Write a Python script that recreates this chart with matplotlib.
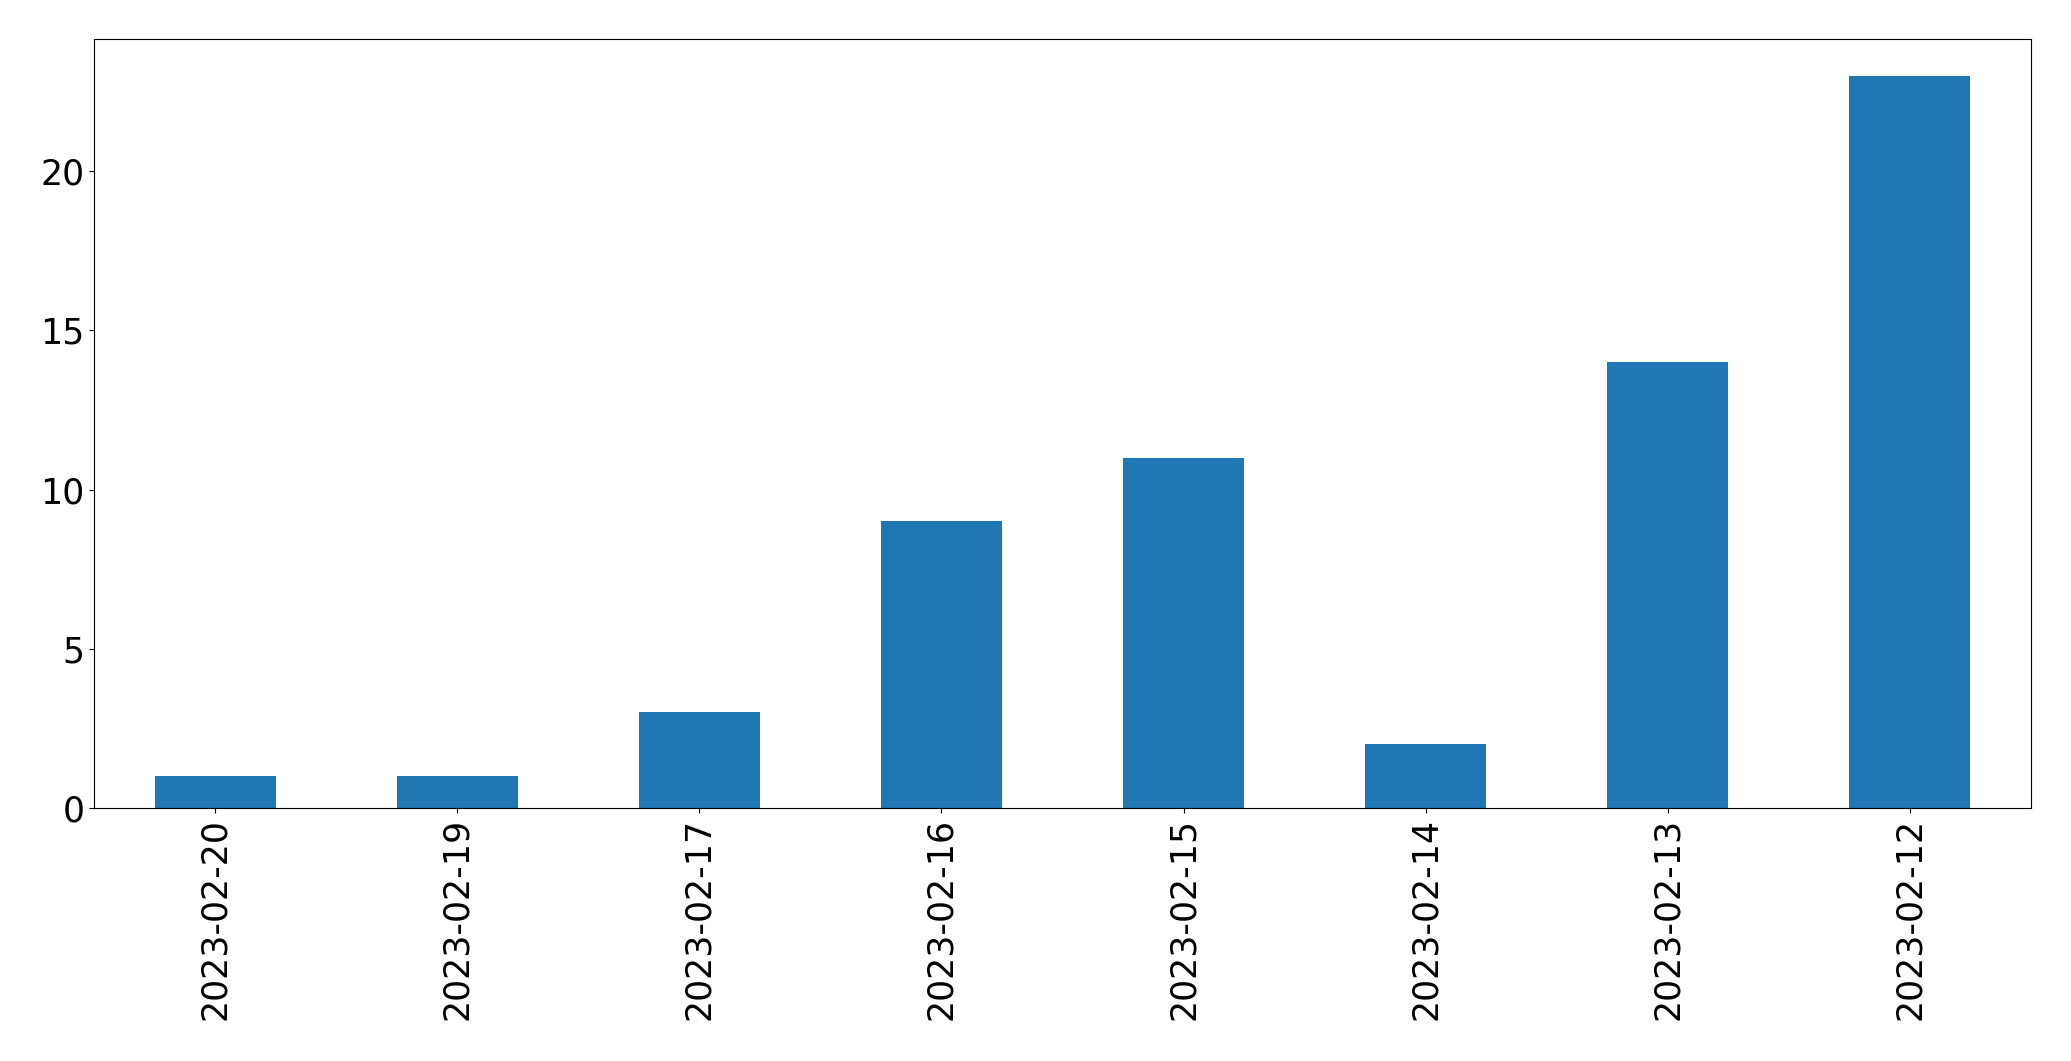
import pandas as pd
import matplotlib
matplotlib.use("Agg")
import matplotlib.pyplot as plt

# counts per day, newest first
dates = ["2023-02-20", "2023-02-19", "2023-02-17", "2023-02-16",
         "2023-02-15", "2023-02-14", "2023-02-13", "2023-02-12"]
counts = [1, 1, 3, 9, 11, 2, 14, 23]

s = pd.Series(counts, index=dates)

fig = plt.figure(figsize=(20.71, 10.61), dpi=100)
ax = fig.add_axes([94 / 2071, 1 - 808 / 1061, (2031 - 94) / 2071, (808 - 39) / 1061])
s.plot(kind="bar", ax=ax, color="#1f77b4", fontsize=25)
fig.savefig("out.png", dpi=100)
